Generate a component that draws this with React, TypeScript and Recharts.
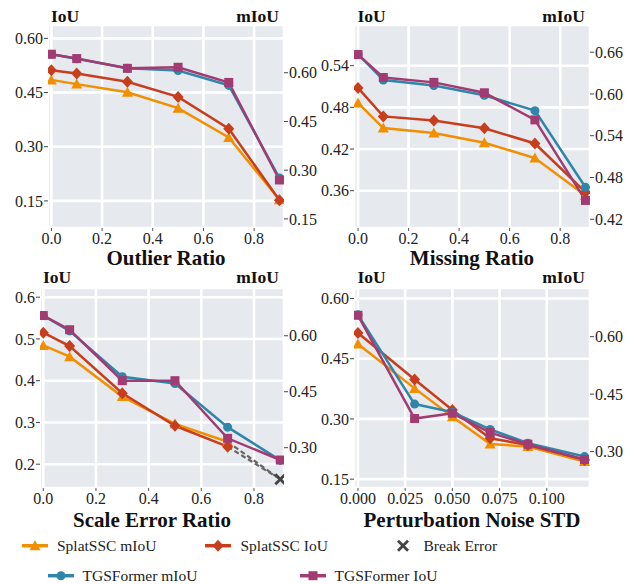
import React from 'react';
import { LineChart, Line, XAxis, YAxis, CartesianGrid } from 'recharts';

const FONT = 'Liberation Serif, Times New Roman, serif';
const C_SPLAT_M = '#F18F01';
const C_SPLAT_I = '#C73E1D';
const C_TGS_M = '#2E86AB';
const C_TGS_I = '#A23B72';
const C_BREAK = '#666666';
const BG = '#E6E9ED';

// ---- Panel 1: Outlier Ratio ----
const outlierX = [0, 0.1, 0.3, 0.5, 0.7, 0.9];
const outlierSplatMIoU = [0.578, 0.565, 0.540, 0.491, 0.401, 0.209];
const outlierSplatIoU = [0.512, 0.503, 0.480, 0.438, 0.350, 0.152];
const outlierTgsMIoU = [0.657, 0.643, 0.614, 0.607, 0.561, 0.276];
const outlierTgsIoU = [0.556, 0.544, 0.517, 0.520, 0.478, 0.208];

// ---- Panel 2: Missing Ratio ----
const missingX = [0, 0.1, 0.3, 0.5, 0.7, 0.9];
const missingSplatMIoU = [0.587, 0.551, 0.544, 0.530, 0.508, 0.454];
const missingSplatIoU = [0.508, 0.467, 0.461, 0.450, 0.428, 0.358];
const missingTgsMIoU = [0.657, 0.620, 0.612, 0.598, 0.576, 0.466];
const missingTgsIoU = [0.556, 0.523, 0.516, 0.501, 0.462, 0.346];

// ---- Panel 3: Scale Error Ratio ----
const scaleX = [0, 0.1, 0.3, 0.5, 0.7, 0.9];
const scaleSplatMIoU = [0.574, 0.544, 0.437, 0.364, 0.316, null];
const scaleSplatIoU = [0.515, 0.483, 0.370, 0.292, 0.242, null];
const scaleTgsMIoU = [0.654, 0.613, 0.490, 0.472, 0.355, 0.266];
const scaleTgsIoU = [0.556, 0.522, 0.400, 0.400, 0.262, 0.210];
const scaleBreakIoU = [null, null, null, null, 0.242, 0.164];
const scaleBreakMIoU = [null, null, null, null, 0.316, 0.215];

// ---- Panel 4: Perturbation Noise STD ----
const noiseX = [0, 0.03, 0.05, 0.07, 0.09, 0.12];
const noiseSplatMIoU = [0.581, 0.465, 0.391, 0.320, 0.313, 0.274];
const noiseSplatIoU = [0.514, 0.398, 0.322, 0.252, 0.235, 0.198];
const noiseTgsMIoU = [0.657, 0.424, 0.403, 0.358, 0.322, 0.287];
const noiseTgsIoU = [0.558, 0.301, 0.314, 0.266, 0.237, 0.199];

// ticks
const ratioTicks = [0, 0.2, 0.4, 0.6, 0.8];
const noiseTicks = [0, 0.025, 0.05, 0.075, 0.1];
const outlierLeftTicks = [0.15, 0.30, 0.45, 0.60];
const outlierRightTicks = [0.15, 0.30, 0.45, 0.60];
const missingLeftTicks = [0.36, 0.42, 0.48, 0.54];
const missingRightTicks = [0.42, 0.48, 0.54, 0.60, 0.66];
const scaleLeftTicks = [0.2, 0.3, 0.4, 0.5, 0.6];
const scaleRightTicks = [0.30, 0.45, 0.60];
const noiseLeftTicks = [0.15, 0.30, 0.45, 0.60];
const noiseRightTicks = [0.30, 0.45, 0.60];

type V = number | null;

function makeRows(xs: number[], sm: V[], si: V[], tm: V[], ti: V[], bi?: V[], bm?: V[]) {
  return xs.map((x, i) => ({
    x,
    splatM: sm[i],
    splatI: si[i],
    tgsM: tm[i],
    tgsI: ti[i],
    brkI: bi ? bi[i] : null,
    brkM: bm ? bm[i] : null,
  }));
}

type Kind = 'tri' | 'dia' | 'cir' | 'sq' | 'x';

function Marker({ kind, cx, cy, color }: { kind: Kind; cx: number; cy: number; color: string }) {
  if (kind === 'tri') {
    return <polygon points={`${cx},${cy - 5.5} ${cx - 5.5},${cy + 4.5} ${cx + 5.5},${cy + 4.5}`} fill={color} />;
  }
  if (kind === 'dia') {
    return <polygon points={`${cx},${cy - 6} ${cx + 5.5},${cy} ${cx},${cy + 6} ${cx - 5.5},${cy}`} fill={color} />;
  }
  if (kind === 'cir') {
    return <circle cx={cx} cy={cy} r={4.5} fill={color} />;
  }
  if (kind === 'sq') {
    return <rect x={cx - 4.5} y={cy - 4.5} width={9} height={9} fill={color} />;
  }
  return (
    <g stroke="#444" strokeWidth={2.8} strokeLinecap="butt">
      <line x1={cx - 5} y1={cy - 5} x2={cx + 5} y2={cy + 5} />
      <line x1={cx - 5} y1={cy + 5} x2={cx + 5} y2={cy - 5} />
    </g>
  );
}

const dotRenderer = (kind: Kind, color: string, onlyIndex?: number) => (props: any) => {
  const { cx, cy, index, value } = props;
  const key = `d-${kind}-${index}`;
  if (cx == null || cy == null || value == null || (Array.isArray(value) && value[1] == null)) return <g key={key} />;
  if (onlyIndex !== undefined && index !== onlyIndex) return <g key={key} />;
  return (
    <g key={key}>
      <Marker kind={kind} cx={cx} cy={cy} color={color} />
    </g>
  );
};

const SerifTick = (props: any) => {
  const { x, y, payload, textAnchor, fmt, dy } = props;
  return (
    <text x={x} y={y} dy={dy} textAnchor={textAnchor} fill="#222" fontSize={16} fontFamily={FONT} style={{ fontFamily: FONT }}>
      {fmt(payload.value)}
    </text>
  );
};

interface PanelProps {
  left: number;
  top: number;
  height: number;
  marginTop: number;
  leftW: number;
  rightW: number;
  rows: any[];
  xDomain: [number, number];
  xTicks: number[];
  xDigits: number;
  lDomain: [number, number];
  lTicks: number[];
  lDigits: number;
  rDomain: [number, number];
  rTicks: number[];
  hasBreak?: boolean;
}

function Panel(p: PanelProps) {
  const xf = (v: number) => v.toFixed(p.xDigits);
  const lf = (v: number) => v.toFixed(p.lDigits);
  const rf = (v: number) => v.toFixed(2);
  return (
    <div style={{ position: 'absolute', left: p.left, top: p.top }}>
      <LineChart width={317} height={p.height} data={p.rows} margin={{ top: p.marginTop, right: 0, bottom: 0, left: 0 }} style={{ fontFamily: FONT }}>
        <CartesianGrid yAxisId="left" fill={BG} fillOpacity={1} stroke="#ffffff" strokeWidth={2.6} />
        <XAxis
          dataKey="x"
          type="number"
          domain={p.xDomain}
          ticks={p.xTicks}
          interval={0}
          allowDataOverflow
          height={22}
          axisLine={false}
          tickSize={3}
          tickMargin={2}
          tickLine={{ stroke: '#555' }}
          tick={(tp: any) => <SerifTick {...tp} fmt={xf} dy="0.71em" textAnchor="middle" />}
        />
        <YAxis
          yAxisId="left"
          type="number"
          domain={p.lDomain}
          ticks={p.lTicks}
          interval={0}
          allowDataOverflow
          width={p.leftW}
          axisLine={false}
          tickSize={4}
          tickMargin={1}
          tickLine={{ stroke: '#444' }}
          tick={(tp: any) => <SerifTick {...tp} fmt={lf} dy="0.355em" textAnchor="end" />}
        />
        <YAxis
          yAxisId="right"
          orientation="right"
          type="number"
          domain={p.rDomain}
          ticks={p.rTicks}
          interval={0}
          allowDataOverflow
          width={p.rightW}
          axisLine={false}
          tickSize={4}
          tickMargin={1}
          tickLine={{ stroke: '#444' }}
          tick={(tp: any) => <SerifTick {...tp} fmt={rf} dy="0.355em" textAnchor="start" />}
        />
        <Line yAxisId="right" dataKey="splatM" stroke={C_SPLAT_M} strokeWidth={2.5} dot={dotRenderer('tri', C_SPLAT_M)} activeDot={false} isAnimationActive={false} connectNulls={false} />
        <Line yAxisId="left" dataKey="splatI" stroke={C_SPLAT_I} strokeWidth={2.5} dot={dotRenderer('dia', C_SPLAT_I)} activeDot={false} isAnimationActive={false} connectNulls={false} />
        <Line yAxisId="right" dataKey="tgsM" stroke={C_TGS_M} strokeWidth={2.5} dot={dotRenderer('cir', C_TGS_M)} activeDot={false} isAnimationActive={false} connectNulls={false} />
        <Line yAxisId="left" dataKey="tgsI" stroke={C_TGS_I} strokeWidth={2.5} dot={dotRenderer('sq', C_TGS_I)} activeDot={false} isAnimationActive={false} connectNulls={false} />
        {p.hasBreak && (
          <Line yAxisId="right" dataKey="brkM" stroke={C_BREAK} strokeWidth={2.2} strokeDasharray="5 3" dot={false} activeDot={false} isAnimationActive={false} connectNulls={false} />
        )}
        {p.hasBreak && (
          <Line yAxisId="left" dataKey="brkI" stroke={C_BREAK} strokeWidth={2.2} strokeDasharray="5 3" dot={dotRenderer('x', '#444', 5)} activeDot={false} isAnimationActive={false} connectNulls={false} />
        )}
      </LineChart>
    </div>
  );
}

function LegendIcon({ x, y, kind, color }: { x: number; y: number; kind: Kind; color: string }) {
  if (kind === 'x') return <Marker kind="x" cx={x + 13} cy={y} color={color} />;
  return (
    <g>
      <line x1={x} y1={y} x2={x + 26} y2={y} stroke={color} strokeWidth={3.5} />
      <Marker kind={kind} cx={x + 13} cy={y} color={color} />
    </g>
  );
}

export default function App() {
  const outlierRows = makeRows(outlierX, outlierSplatMIoU, outlierSplatIoU, outlierTgsMIoU, outlierTgsIoU);
  const missingRows = makeRows(missingX, missingSplatMIoU, missingSplatIoU, missingTgsMIoU, missingTgsIoU);
  const scaleRows = makeRows(scaleX, scaleSplatMIoU, scaleSplatIoU, scaleTgsMIoU, scaleTgsIoU, scaleBreakIoU, scaleBreakMIoU);
  const noiseRows = makeRows(noiseX, noiseSplatMIoU, noiseSplatIoU, noiseTgsMIoU, noiseTgsIoU);

  const titleStyle = { fontFamily: FONT, fontWeight: 700, fontSize: 17.5, fill: '#111' } as const;
  const axisTitle = { fontFamily: FONT, fontWeight: 700, fontSize: 21, fill: '#111' } as const;
  const legText = { fontFamily: FONT, fontSize: 15.5, fill: '#222' } as const;

  return (
    <div style={{ position: 'absolute', left: 0, top: 0, width: 634, height: 584, background: '#fff', fontFamily: FONT }}>
      <Panel left={0} top={0} height={250} marginTop={25} leftW={48} rightW={33} rows={outlierRows}
        xDomain={[-0.0134, 0.918]} xTicks={ratioTicks} xDigits={1}
        lDomain={[0.075, 0.637]} lTicks={outlierLeftTicks} lDigits={2}
        rDomain={[0.122, 0.747]} rTicks={outlierRightTicks} />
      <Panel left={317} top={0} height={250} marginTop={25} leftW={37} rightW={44} rows={missingRows}
        xDomain={[-0.016, 0.918]} xTicks={ratioTicks} xDigits={1}
        lDomain={[0.3063, 0.5986]} lTicks={missingLeftTicks} lDigits={2}
        rDomain={[0.4075, 0.699]} rTicks={missingRightTicks} />
      <Panel left={0} top={270} height={240} marginTop={18} leftW={40} rightW={33} rows={scaleRows}
        xDomain={[-0.0125, 0.914]} xTicks={ratioTicks} xDigits={1}
        lDomain={[0.143, 0.622]} lTicks={scaleLeftTicks} lDigits={1}
        rDomain={[0.192, 0.728]} rTicks={scaleRightTicks} hasBreak />
      <Panel left={317} top={270} height={240} marginTop={18} leftW={37} rightW={44} rows={noiseRows}
        xDomain={[-0.0021, 0.1229]} xTicks={noiseTicks} xDigits={3}
        lDomain={[0.128, 0.626]} lTicks={noiseLeftTicks} lDigits={2}
        rDomain={[0.205, 0.727]} rTicks={noiseRightTicks} />

      <svg width={634} height={584} style={{ position: 'absolute', left: 0, top: 0, pointerEvents: 'none' }}>
        <text x={51} y={22} style={titleStyle}>IoU</text>
        <text x={279} y={22} textAnchor="end" style={titleStyle}>mIoU</text>
        <text x={357.5} y={22} style={titleStyle}>IoU</text>
        <text x={585} y={22} textAnchor="end" style={titleStyle}>mIoU</text>
        <text x={43} y={283} style={titleStyle}>IoU</text>
        <text x={279} y={283} textAnchor="end" style={titleStyle}>mIoU</text>
        <text x={357.5} y={283} style={titleStyle}>IoU</text>
        <text x={585} y={283} textAnchor="end" style={titleStyle}>mIoU</text>

        <text x={166} y={265} textAnchor="middle" style={axisTitle}>Outlier Ratio</text>
        <text x={472} y={265} textAnchor="middle" style={axisTitle}>Missing Ratio</text>
        <text x={152} y={527} textAnchor="middle" style={axisTitle}>Scale Error Ratio</text>
        <text x={472} y={527} textAnchor="middle" style={axisTitle}>Perturbation Noise STD</text>

        <LegendIcon x={22} y={545.7} kind="tri" color={C_SPLAT_M} />
        <text x={57} y={551} fontFamily={FONT} style={legText}>SplatSSC mIoU</text>
        <LegendIcon x={205} y={545.7} kind="dia" color={C_SPLAT_I} />
        <text x={240.5} y={551} fontFamily={FONT} style={legText}>SplatSSC IoU</text>
        <LegendIcon x={390} y={545.7} kind="x" color="#444" />
        <text x={423.5} y={551} fontFamily={FONT} style={legText}>Break Error</text>
        <LegendIcon x={48} y={575.7} kind="cir" color={C_TGS_M} />
        <text x={82.5} y={581} fontFamily={FONT} style={legText}>TGSFormer mIoU</text>
        <LegendIcon x={300} y={575.7} kind="sq" color={C_TGS_I} />
        <text x={334.5} y={581} fontFamily={FONT} style={legText}>TGSFormer IoU</text>
      </svg>
    </div>
  );
}
